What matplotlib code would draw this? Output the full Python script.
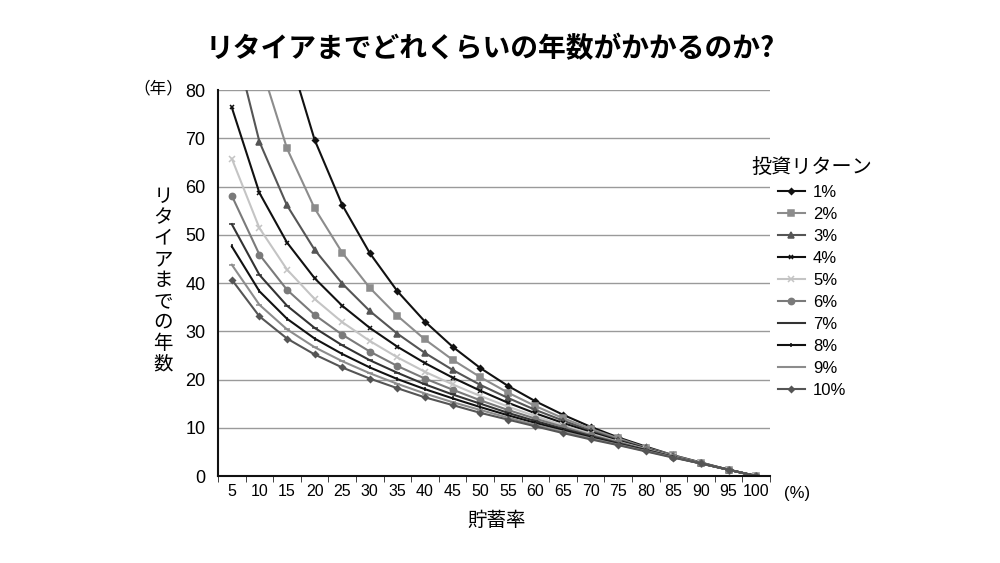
import matplotlib

matplotlib.use("Agg")
import matplotlib.pyplot as plt

plt.rcParams["font.family"] = ["Noto Sans CJK JP", "DejaVu Sans"]

# savings rate (%)
savings_rate = [5, 10, 15, 20, 25, 30, 35, 40, 45, 50, 55, 60, 65, 70, 75, 80, 85, 90, 95, 100]
x_labels = [str(v) for v in savings_rate]

# years to retirement per investment return (values above 80 run off the top)
ret_1 = [175.8, 118.5, 88.7, 69.7, 56.2, 46.2, 38.3, 32.0, 26.8, 22.4, 18.7, 15.5, 12.7, 10.2, 8.0, 6.1, 4.3, 2.8, 1.3, 0]
ret_2 = [118.7, 86.1, 67.9, 55.5, 46.3, 39.0, 33.2, 28.3, 24.1, 20.5, 17.3, 14.5, 12.0, 9.8, 7.8, 5.9, 4.3, 2.7, 1.3, 0]
ret_3 = [92.2, 69.3, 56.1, 46.9, 39.9, 34.2, 29.5, 25.5, 22.0, 18.9, 16.2, 13.7, 11.5, 9.4, 7.5, 5.8, 4.2, 2.7, 1.3, 0]
ret_4 = [76.4, 58.7, 48.4, 41.0, 35.3, 30.7, 26.8, 23.4, 20.4, 17.7, 15.2, 13.0, 11.0, 9.1, 7.3, 5.7, 4.1, 2.7, 1.3, 0]
ret_5 = [65.8, 51.4, 42.8, 36.7, 31.9, 28.0, 24.6, 21.6, 19.0, 16.6, 14.4, 12.4, 10.5, 8.8, 7.1, 5.6, 4.1, 2.7, 1.3, 0]
ret_6 = [58.1, 45.9, 38.6, 33.4, 29.3, 25.8, 22.8, 20.2, 17.9, 15.7, 13.7, 11.9, 10.2, 8.5, 7.0, 5.5, 4.0, 2.6, 1.3, 0]
ret_7 = [52.2, 41.7, 35.3, 30.7, 27.1, 24.0, 21.4, 19.0, 16.9, 15.0, 13.1, 11.4, 9.8, 8.3, 6.8, 5.4, 4.0, 2.6, 1.3, 0]
ret_8 = [47.6, 38.3, 32.6, 28.5, 25.3, 22.5, 20.1, 18.0, 16.1, 14.3, 12.6, 11.0, 9.5, 8.0, 6.6, 5.3, 3.9, 2.6, 1.3, 0]
ret_9 = [43.8, 35.5, 30.4, 26.7, 23.8, 21.3, 19.1, 17.1, 15.3, 13.7, 12.1, 10.6, 9.2, 7.8, 6.5, 5.2, 3.9, 2.6, 1.3, 0]
ret_10 = [40.7, 33.1, 28.5, 25.2, 22.5, 20.2, 18.2, 16.3, 14.7, 13.1, 11.7, 10.3, 8.9, 7.6, 6.4, 5.1, 3.8, 2.6, 1.3, 0]

series_labels = ["1%", "2%", "3%", "4%", "5%", "6%", "7%", "8%", "9%", "10%"]
series = [ret_1, ret_2, ret_3, ret_4, ret_5, ret_6, ret_7, ret_8, ret_9, ret_10]

# (colour, marker, marker size)
styles = [
    ("#111111", "D", 3),
    ("#8c8c8c", "s", 4.5),
    ("#555555", "^", 4.5),
    ("#111111", "x", 3.5),
    ("#c4c4c4", "x", 4.5),
    ("#7a7a7a", "o", 4.5),
    ("#333333", "_", 5),
    ("#111111", "|", 3.5),
    ("#8c8c8c", "_", 5),
    ("#555555", "D", 3),
]

num_font = ["Liberation Sans", "DejaVu Sans"]

fig = plt.figure(figsize=(10, 5.63), dpi=100)
ax = fig.add_axes([0.218, 0.1545, 0.552, 0.6855])

for vals, lab, (col, mk, ms) in zip(series, series_labels, styles):
    ax.plot(savings_rate, vals, color=col, lw=1.5, marker=mk, ms=ms,
            mew=1.1, label=lab, clip_on=True)

ax.set_xlim(2.5, 102.5)
ax.set_ylim(0, 80)
ax.set_yticks(range(0, 81, 10))
ax.set_xticks(savings_rate)
ax.set_xticklabels(x_labels, fontsize=11.5, family=num_font)
for t in ax.get_yticklabels():
    t.set_family(num_font)
ax.set_xticks([s + 2.5 for s in [0] + savings_rate], minor=True)
ax.tick_params(axis="x", which="major", length=0, pad=6)
ax.tick_params(axis="x", which="minor", length=4, direction="out", color="#222222")
ax.tick_params(axis="y", length=0, labelsize=13, pad=9)
ax.grid(axis="y", color="#9a9a9a", lw=1.0)
ax.set_axisbelow(True)
for side in ["top", "right"]:
    ax.spines[side].set_visible(False)
for side in ["left", "bottom"]:
    ax.spines[side].set_color("#111111")
    ax.spines[side].set_linewidth(1.5)

fig.text(0.49, 0.912, "リタイアまでどれくらいの年数がかかるのか?", ha="center", va="center",
         fontsize=20, fontweight="bold")
fig.text(0.158, 0.842, "（年）", ha="center", va="center", fontsize=12)
fig.text(0.797, 0.124, "(%)", ha="center", va="center", fontsize=12, family=num_font)
fig.text(0.497, 0.075, "貯蓄率", ha="center", va="center", fontsize=14)
fig.text(0.163, 0.502, "\n".join("リタイアまでの年数"), ha="center", va="center",
         fontsize=14, linespacing=1.0)

leg = ax.legend(loc="upper left", bbox_to_anchor=(0.94, 0.865), frameon=False,
                title="投資リターン", fontsize=12, title_fontsize=14.5,
                handlelength=1.6, labelspacing=0.42, handletextpad=0.5)
leg._legend_box.align = "center"
for t in leg.get_texts():
    t.set_family(num_font)

fig.savefig("out.png", dpi=100)
